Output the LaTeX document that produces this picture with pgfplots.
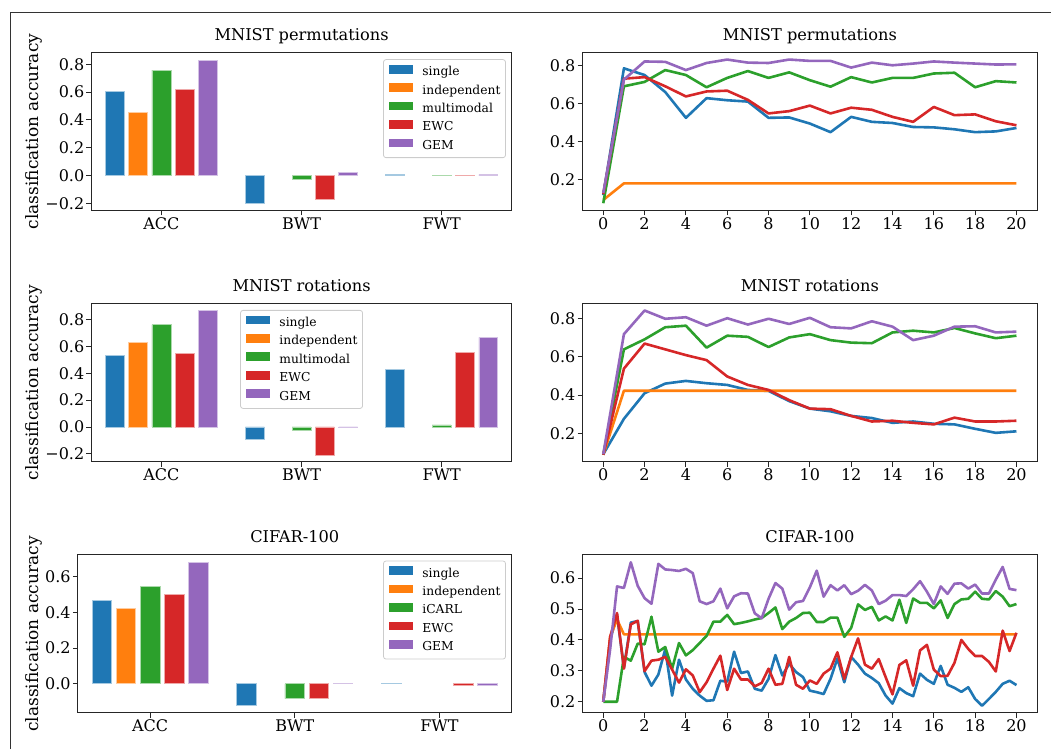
\documentclass[border=0pt]{standalone}
\usepackage{fontspec}
\setmainfont{DejaVu Serif}
\usepackage{pgfplots}
\usepackage{pgfplotstable}
\pgfplotsset{compat=1.18}
\definecolor{cB}{HTML}{1F77B4}
\definecolor{cO}{HTML}{FF7F0E}
\definecolor{cG}{HTML}{2CA02C}
\definecolor{cR}{HTML}{D62728}
\definecolor{cP}{HTML}{9467BD}
\definecolor{spine}{HTML}{262626}

\pgfplotstableread{
x single indep multi ewc gem
0 0.120 0.095 0.078 0.125 0.131
1 0.784 0.182 0.690 0.730 0.725
2 0.749 0.182 0.713 0.738 0.820
3 0.660 0.182 0.775 0.690 0.818
4 0.525 0.182 0.749 0.637 0.775
5 0.628 0.182 0.685 0.663 0.812
6 0.617 0.182 0.734 0.667 0.830
7 0.610 0.182 0.770 0.619 0.814
8 0.525 0.182 0.734 0.548 0.812
9 0.527 0.182 0.763 0.560 0.830
10 0.495 0.182 0.722 0.589 0.823
11 0.450 0.182 0.688 0.548 0.823
12 0.530 0.182 0.738 0.578 0.788
13 0.504 0.182 0.710 0.567 0.814
14 0.498 0.182 0.734 0.530 0.800
15 0.477 0.182 0.734 0.504 0.809
16 0.475 0.182 0.757 0.582 0.820
17 0.465 0.182 0.761 0.539 0.814
18 0.450 0.182 0.685 0.543 0.809
19 0.454 0.182 0.717 0.507 0.804
20 0.472 0.182 0.710 0.486 0.805
}\permtable

\pgfplotstableread{
x single indep multi ewc gem
0 0.093 0.090 0.090 0.090 0.093
1 0.277 0.423 0.638 0.538 0.717
2 0.410 0.423 0.690 0.668 0.840
3 0.460 0.423 0.753 0.638 0.797
4 0.474 0.423 0.761 0.608 0.805
5 0.462 0.423 0.647 0.582 0.761
6 0.453 0.423 0.709 0.497 0.800
7 0.427 0.423 0.703 0.453 0.767
8 0.422 0.423 0.650 0.427 0.797
9 0.369 0.423 0.700 0.374 0.770
10 0.330 0.423 0.717 0.330 0.802
11 0.316 0.423 0.686 0.327 0.753
12 0.292 0.423 0.673 0.292 0.747
13 0.281 0.423 0.670 0.263 0.784
14 0.256 0.423 0.726 0.267 0.756
15 0.263 0.423 0.735 0.256 0.686
16 0.251 0.423 0.726 0.248 0.709
17 0.248 0.423 0.749 0.283 0.756
18 0.225 0.423 0.721 0.263 0.758
19 0.204 0.423 0.696 0.263 0.726
20 0.212 0.423 0.709 0.267 0.730
}\rottable

\pgfplotstableread{
x single icarl ewc gem
0 0.200 0.200 0.200 0.200
0.3333 0.400 0.200 0.410 0.370
0.6667 0.480 0.200 0.487 0.573
1 0.310 0.345 0.307 0.568
1.3333 0.456 0.333 0.450 0.651
1.6667 0.461 0.388 0.462 0.575
2 0.296 0.386 0.299 0.535
2.3333 0.252 0.475 0.333 0.517
2.6667 0.288 0.362 0.336 0.646
3 0.370 0.377 0.345 0.628
3.3333 0.220 0.307 0.304 0.626
3.6667 0.336 0.390 0.262 0.623
4 0.272 0.350 0.305 0.630
4.3333 0.242 0.367 0.285 0.616
4.6667 0.220 0.390 0.231 0.525
5 0.203 0.413 0.263 0.516
5.3333 0.205 0.459 0.307 0.525
5.6667 0.268 0.459 0.349 0.566
6 0.265 0.481 0.238 0.502
6.3333 0.362 0.451 0.307 0.541
6.6667 0.293 0.455 0.272 0.551
7 0.298 0.460 0.272 0.550
7.3333 0.242 0.466 0.250 0.486
7.6667 0.236 0.471 0.261 0.470
8 0.274 0.487 0.307 0.533
8.3333 0.351 0.505 0.255 0.584
8.6667 0.285 0.435 0.258 0.566
9 0.323 0.459 0.345 0.498
9.3333 0.296 0.471 0.255 0.522
9.6667 0.280 0.487 0.242 0.526
10 0.236 0.488 0.269 0.570
10.3333 0.231 0.458 0.258 0.624
10.6667 0.225 0.458 0.291 0.540
11 0.274 0.472 0.307 0.577
11.3333 0.340 0.472 0.360 0.560
11.6667 0.263 0.410 0.274 0.577
12 0.345 0.439 0.345 0.548
12.3333 0.320 0.515 0.405 0.559
12.6667 0.291 0.497 0.320 0.578
13 0.277 0.507 0.307 0.560
13.3333 0.260 0.463 0.338 0.516
13.6667 0.220 0.476 0.280 0.527
14 0.194 0.463 0.224 0.545
14.3333 0.244 0.530 0.319 0.545
14.6667 0.228 0.455 0.334 0.542
15 0.218 0.534 0.252 0.564
15.3333 0.291 0.520 0.366 0.590
15.6667 0.271 0.520 0.384 0.556
16 0.258 0.502 0.304 0.516
16.3333 0.316 0.528 0.283 0.573
16.6667 0.255 0.471 0.284 0.549
17 0.245 0.516 0.326 0.582
17.3333 0.232 0.531 0.400 0.583
17.6667 0.247 0.533 0.371 0.566
18 0.209 0.556 0.348 0.579
18.3333 0.187 0.533 0.348 0.550
18.6667 0.209 0.531 0.329 0.550
19 0.232 0.558 0.298 0.595
19.3333 0.258 0.540 0.430 0.636
19.6667 0.268 0.509 0.364 0.565
20 0.254 0.516 0.423 0.561
}\cifartable

\pgfplotstableread{
x indep
0 0.200
0.3333 0.410
0.6667 0.466
1 0.418
20 0.418
}\cifarindep

\pgfplotsset{
  base/.style={
    scale only axis, anchor=south west,
    axis line style={spine, line width=0.9pt},
    every tick/.style={spine, line width=0.9pt},
    tick align=outside, tick pos=left, major tick length=5pt,
    ticklabel style={font=\fontsize{16}{19}\selectfont, inner sep=2pt},
    /pgf/number format/assume math mode=true,
    title style={font=\fontsize{16.2}{19}\selectfont, at={(0.5,1)}, anchor=base, yshift=6pt},
  },
  barax/.style={
    base, xmin=-0.5, xmax=2.5, xtick={0,1,2}, xticklabels={ACC,BWT,FWT},
    ylabel={classification accuracy},
    ylabel style={font=\fontsize{17}{20}\selectfont, at={(axis description cs:0,0.5)}, anchor=base},
    legend cell align=left,
    legend style={font=\fontsize{12.3}{14}\selectfont, draw=black!20, line width=0.8pt,
      fill=white, rounded corners=2.5pt, inner xsep=5pt, inner ysep=5.2pt,
      nodes={inner sep=0pt, text height=9pt, text depth=3pt},
      row sep=4.6pt, column sep=9.5pt},
  },
  lineax/.style={base, xmin=-1, xmax=21, xtick={0,2,...,20}},
  mybar/.style={ybar, bar width=0.135, bar shift=0pt, fill=#1, draw=#1!40!white, line width=0.7pt,
    legend image code/.code={\fill[#1, sharp corners] (0pt,-0.3pt) rectangle (23.7pt,7.5pt);}},
  myline/.style={#1, line width=2.6pt, line join=round, mark=none},
}

\begin{document}
\begin{tikzpicture}
\path[use as bounding box] (0,0) rectangle (1051pt,749pt);
\draw[black!80, line width=1pt] (10pt,0pt) -- (10pt,736.7pt) -- (1051pt,736.7pt);

% ---------- Top left: MNIST permutations (bars)
\begin{axis}[barax, at={(91.4pt,538.5pt)}, width=420.3pt, height=158pt,
  ymin=-0.25, ymax=0.884, ytick={-0.2,0,0.2,0.4,0.6,0.8},
  yticklabels={−0.2,0.0,0.2,0.4,0.6,0.8},
  ylabel style={yshift=52.4pt},
  title={MNIST permutations},
  legend style={at={(1,1)}, anchor=north east, xshift=-5.8pt, yshift=-6.7pt}]
\addplot[mybar=cB] coordinates {(-0.3333,0.604) (0.6667,-0.200) (1.6667,0.008)};
\addlegendentry{single}
\addplot[mybar=cO] coordinates {(-0.1667,0.454)};
\addlegendentry{independent}
\addplot[mybar=cG] coordinates {(0,0.757) (1,-0.030) (2,0.004)};
\addlegendentry{multimodal}
\addplot[mybar=cR] coordinates {(0.1667,0.619) (1.1667,-0.167) (2.1667,0.004)};
\addlegendentry{EWC}
\addplot[mybar=cP] coordinates {(0.3333,0.830) (1.3333,0.024) (2.3333,0.008)};
\addlegendentry{GEM}
\end{axis}

% ---------- Top right
\begin{axis}[lineax, at={(582.6pt,538.5pt)}, width=454.5pt, height=158pt,
  ymin=0.04, ymax=0.867, ytick={0.2,0.4,0.6,0.8}, yticklabels={0.2,0.4,0.6,0.8},
  title={MNIST permutations}]
\addplot[myline=cB] table[x=x,y=single] {\permtable};
\addplot[myline=cO] table[x=x,y=indep] {\permtable};
\addplot[myline=cG] table[x=x,y=multi] {\permtable};
\addplot[myline=cR] table[x=x,y=ewc] {\permtable};
\addplot[myline=cP] table[x=x,y=gem] {\permtable};
\end{axis}

% ---------- Middle left: MNIST rotations (bars)
\begin{axis}[barax, at={(91.4pt,287.1pt)}, width=420.3pt, height=158.7pt,
  ymin=-0.26, ymax=0.921, ytick={-0.2,0,0.2,0.4,0.6,0.8},
  yticklabels={−0.2,0.0,0.2,0.4,0.6,0.8},
  ylabel style={yshift=52.4pt},
  title={MNIST rotations},
  legend style={at={(0.5,1)}, anchor=north, yshift=-6.8pt}]
\addplot[mybar=cB] coordinates {(-0.3333,0.532) (0.6667,-0.089) (1.6667,0.425)};
\addlegendentry{single}
\addplot[mybar=cO] coordinates {(-0.1667,0.628)};
\addlegendentry{independent}
\addplot[mybar=cG] coordinates {(0,0.762) (1,-0.025) (2,0.015)};
\addlegendentry{multimodal}
\addplot[mybar=cR] coordinates {(0.1667,0.547) (1.1667,-0.208) (2.1667,0.557)};
\addlegendentry{EWC}
\addplot[mybar=cP] coordinates {(0.3333,0.866) (1.3333,-0.004) (2.3333,0.666)};
\addlegendentry{GEM}
\end{axis}

% ---------- Middle right
\begin{axis}[lineax, at={(582.6pt,287.1pt)}, width=454.5pt, height=158.7pt,
  ymin=0.053, ymax=0.878, ytick={0.2,0.4,0.6,0.8}, yticklabels={0.2,0.4,0.6,0.8},
  title={MNIST rotations}]
\addplot[myline=cB] table[x=x,y=single] {\rottable};
\addplot[myline=cO] table[x=x,y=indep] {\rottable};
\addplot[myline=cG] table[x=x,y=multi] {\rottable};
\addplot[myline=cR] table[x=x,y=ewc] {\rottable};
\addplot[myline=cP] table[x=x,y=gem] {\rottable};
\end{axis}

% ---------- Bottom left: CIFAR-100 (bars)
\begin{axis}[barax, at={(77.8pt,36.1pt)}, width=433.9pt, height=158pt,
  ymin=-0.163, ymax=0.721, ytick={0,0.2,0.4,0.6},
  yticklabels={0.0,0.2,0.4,0.6},
  ylabel style={yshift=38.8pt},
  title={CIFAR-100},
  legend style={at={(1,1)}, anchor=north east, xshift=-5.8pt, yshift=-5.7pt}]
\addplot[mybar=cB] coordinates {(-0.3333,0.466) (0.6667,-0.123) (1.6667,0.002)};
\addlegendentry{single}
\addplot[mybar=cO] coordinates {(-0.1667,0.424)};
\addlegendentry{independent}
\addplot[mybar=cG] coordinates {(0,0.547) (1,-0.083)};
\addlegendentry{iCARL}
\addplot[mybar=cR] coordinates {(0.1667,0.500) (1.1667,-0.081) (2.1667,-0.008)};
\addlegendentry{EWC}
\addplot[mybar=cP] coordinates {(0.3333,0.680) (1.3333,0.004) (2.3333,-0.008)};
\addlegendentry{GEM}
\end{axis}

% ---------- Bottom right
\begin{axis}[lineax, at={(582.6pt,36.1pt)}, width=454.5pt, height=158pt,
  ymin=0.164, ymax=0.675, ytick={0.2,0.3,0.4,0.5,0.6}, yticklabels={0.2,0.3,0.4,0.5,0.6},
  title={CIFAR-100}]
\addplot[myline=cB] table[x=x,y=single] {\cifartable};
\addplot[myline=cO] table[x=x,y=indep] {\cifarindep};
\addplot[myline=cG] table[x=x,y=icarl] {\cifartable};
\addplot[myline=cR] table[x=x,y=ewc] {\cifartable};
\addplot[myline=cP] table[x=x,y=gem] {\cifartable};
\end{axis}
\end{tikzpicture}
\end{document}
